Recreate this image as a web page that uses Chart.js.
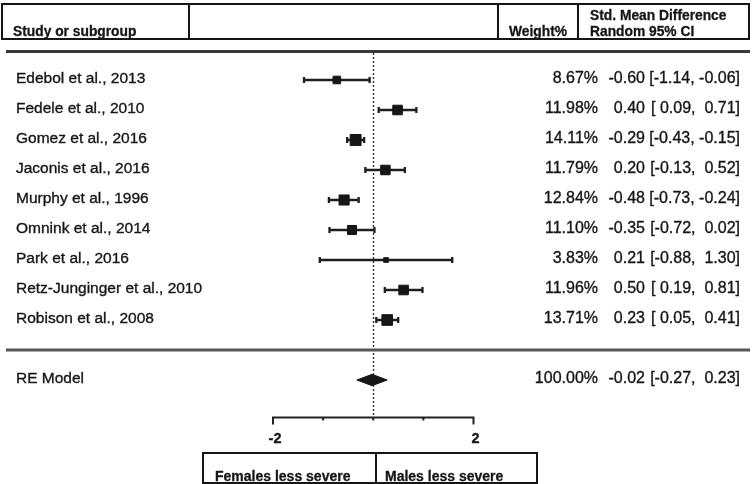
<!DOCTYPE html>
<html>
<head>
<meta charset="utf-8">
<script src="https://cdn.jsdelivr.net/npm/chart.js@4.4.1/dist/chart.umd.min.js"></script>
<style>
  html, body { margin: 0; padding: 0; background: #fff; }
  canvas { display: block; }
</style>
</head>
<body>
<canvas id="forest" width="755" height="484"></canvas>
<script>
// dados do forest plot
const studies = [
    'Edebol et al., 2013',
    'Fedele et al., 2010',
    'Gomez et al., 2016',
    'Jaconis et al., 2016',
    'Murphy et al., 1996',
    'Omnink et al., 2014',
    'Park et al., 2016',
    'Retz-Junginger et al., 2010',
    'Robison et al., 2008'
];
const weights = [8.67, 11.98, 14.11, 11.79, 12.84, 11.10, 3.83, 11.96, 13.71];
const smd = [-0.60, 0.40, -0.29, 0.20, -0.48, -0.35, 0.21, 0.50, 0.23];
const ciLow = [-1.14, 0.09, -0.43, -0.13, -0.73, -0.72, -0.88, 0.19, 0.05];
const ciHigh = [-0.06, 0.71, -0.15, 0.52, -0.24, 0.02, 1.30, 0.81, 0.41];

// modelo de efeitos aleatorios
const reLabel = 'RE Model';
const reWeight = 100.00;
const reSmd = -0.02;
const reLow = -0.27;
const reHigh = 0.23;

// eixo x (rotulos como aparecem na figura)
const axisTicks = [-1.65, -0.825, 0, 0.825, 1.65];
const axisTickLabels = ['-2', '', '', '', '2'];
const directionLabels = ['Females less severe', 'Males less severe'];

const headerLabels = ['Study or subgroup', 'Weight%', 'Std. Mean Difference', 'Random 95% CI'];

const FONT = '"Liberation Sans", Arial, sans-serif';
const INK = '#161616';
const reRow = studies.length + 1;

function fmt(v) { // numero com espaco no lugar do sinal
    return (v < 0 ? '' : ' ') + v.toFixed(2);
}

// texto um pouco mais grosso, como na figura original
function heavyText(ctx, txt, px, py) {
    ctx.fillText(txt, px, py);
    ctx.strokeText(txt, px, py);
}

// plugin que desenha a tabela, a linha do zero e o eixo
const forestTable = {
    id: 'forestTable',
    beforeDatasetsDraw(chart) {
        const ctx = chart.ctx;
        const x = chart.scales.x, y = chart.scales.y;
        const x0 = Math.round(x.getPixelForValue(0)) + 0.5;
        ctx.save();
        ctx.strokeStyle = '#333';
        ctx.lineWidth = 1.4;
        ctx.setLineDash([2, 2]);
        ctx.beginPath();
        ctx.moveTo(x0, y.getPixelForValue(-0.9));
        ctx.lineTo(x0, chart.chartArea.bottom);
        ctx.stroke();
        ctx.restore();
    },
    afterDraw(chart) {
        const ctx = chart.ctx;
        const x = chart.scales.x, y = chart.scales.y;
        ctx.save();
        ctx.fillStyle = INK;
        ctx.strokeStyle = INK;

        // cabecalho
        ctx.font = 'bold 13.8px ' + FONT;
        ctx.textBaseline = 'alphabetic';
        ctx.textAlign = 'left';
        ctx.lineWidth = 0.3;
        heavyText(ctx, headerLabels[0], 13, 36);
        heavyText(ctx, headerLabels[1], 509, 36);
        heavyText(ctx, headerLabels[2], 590, 20);
        heavyText(ctx, headerLabels[3], 590, 36);

        ctx.lineWidth = 2;
        ctx.strokeRect(2, 4, 747, 35);
        ctx.beginPath();
        [189, 498, 578].forEach(function (px) {
            ctx.moveTo(px, 4);
            ctx.lineTo(px, 39);
        });
        ctx.stroke();

        // linha dupla abaixo do cabecalho
        ctx.strokeStyle = '#3a3a3a';
        ctx.lineWidth = 3;
        ctx.beginPath();
        ctx.moveTo(6, 51.5);
        ctx.lineTo(750, 51.5);
        ctx.stroke();

        // linhas dos estudos
        ctx.fillStyle = INK;
        ctx.strokeStyle = INK;
        ctx.lineWidth = 0.35;
        ctx.textBaseline = 'middle';
        for (let i = 0; i < studies.length; i++) {
            const py = y.getPixelForValue(i) - 1;
            ctx.font = '15.5px ' + FONT;
            ctx.textAlign = 'left';
            heavyText(ctx, studies[i], 16, py);
            ctx.font = '16px ' + FONT;
            ctx.textAlign = 'right';
            heavyText(ctx, weights[i].toFixed(2) + '%', 598, py);
            heavyText(ctx, smd[i].toFixed(2), 645, py);
            heavyText(ctx, '[' + fmt(ciLow[i]) + ', ' + fmt(ciHigh[i]) + ']', 740, py);
        }

        // separador antes do modelo
        const sepY = y.getPixelForValue(studies.length);
        ctx.strokeStyle = '#555';
        ctx.lineWidth = 3;
        ctx.beginPath();
        ctx.moveTo(6, sepY);
        ctx.lineTo(750, sepY);
        ctx.stroke();

        const ry = y.getPixelForValue(reRow) - 1;
        ctx.strokeStyle = INK;
        ctx.lineWidth = 0.35;
        ctx.font = '15.5px ' + FONT;
        ctx.textAlign = 'left';
        heavyText(ctx, reLabel, 16, ry);
        ctx.font = '16px ' + FONT;
        ctx.textAlign = 'right';
        heavyText(ctx, reWeight.toFixed(2) + '%', 598, ry);
        heavyText(ctx, reSmd.toFixed(2), 645, ry);
        heavyText(ctx, '[' + fmt(reLow) + ', ' + fmt(reHigh) + ']', 740, ry);

        // eixo x
        const ay = chart.chartArea.bottom;
        const first = x.getPixelForValue(axisTicks[0]);
        const last = x.getPixelForValue(axisTicks[axisTicks.length - 1]);
        ctx.strokeStyle = '#222';
        ctx.lineWidth = 2;
        ctx.beginPath();
        ctx.moveTo(first - 1, ay);
        ctx.lineTo(last + 1, ay);
        axisTicks.forEach(function (t, k) {
            const px = x.getPixelForValue(t);
            const len = (k === 0 || k === axisTicks.length - 1) ? 7 : 3;
            ctx.moveTo(px, ay);
            ctx.lineTo(px, ay + len);
        });
        ctx.stroke();

        ctx.font = 'bold 14.5px ' + FONT;
        ctx.textAlign = 'center';
        ctx.fillStyle = INK;
        ctx.strokeStyle = INK;
        ctx.lineWidth = 0.3;
        axisTicks.forEach(function (t, k) {
            if (axisTickLabels[k]) {
                heavyText(ctx, axisTickLabels[k], x.getPixelForValue(t) + 2, ay + 21);
            }
        });

        // caixa de direcao
        ctx.lineWidth = 2;
        ctx.strokeRect(203, 453, 334, 30);
        ctx.beginPath();
        ctx.moveTo(376, 453);
        ctx.lineTo(376, 483);
        ctx.stroke();
        ctx.textAlign = 'left';
        ctx.textBaseline = 'alphabetic';
        ctx.lineWidth = 0.3;
        ctx.font = 'bold 14px ' + FONT;
        heavyText(ctx, directionLabels[0], 215, 481);
        heavyText(ctx, directionLabels[1], 385, 481);

        ctx.restore();
    }
};

const squareData = smd.map(function (v, i) { return {x: v, y: i}; });
const squareRadius = weights.map(function (w) { return (0.6 * w + 2.4) / Math.SQRT2; });

const ciDatasets = studies.map(function (s, i) {
    return {
        label: s,
        data: [{x: ciLow[i], y: i}, {x: ciHigh[i], y: i}],
        showLine: true,
        borderColor: '#1e1e1e',
        borderWidth: 2.3,
        pointStyle: 'line',
        pointRotation: 90,
        pointRadius: 3,
        pointBorderWidth: 2.3,
        pointBorderColor: '#1e1e1e'
    };
});

const diamondHalf = 0.19;
const diamond = {
    label: reLabel,
    type: 'line',
    data: [
        {x: reLow, y: reRow},
        {x: reSmd, y: reRow - diamondHalf},
        {x: reHigh, y: reRow},
        {x: reSmd, y: reRow + diamondHalf},
        {x: reLow, y: reRow}
    ],
    borderColor: INK,
    backgroundColor: INK,
    borderWidth: 1,
    pointRadius: 0,
    tension: 0,
    fill: 'shape'
};

const squares = {
    label: 'SMD',
    data: squareData,
    pointStyle: 'rect',
    pointRadius: squareRadius,
    backgroundColor: INK,
    pointBorderColor: INK,
    pointBorderWidth: 1
};

new Chart(document.getElementById('forest'), {
    type: 'scatter',
    data: {
        datasets: [squares, diamond].concat(ciDatasets)
    },
    options: {
        responsive: false,
        animation: false,
        devicePixelRatio: 1,
        layout: {
            padding: {left: 273, right: 281.5, top: 50, bottom: 66.5}
        },
        scales: {
            x: {type: 'linear', min: -1.65, max: 1.65, display: false},
            y: {type: 'linear', min: -1, max: 11.25, reverse: true, display: false}
        },
        plugins: {
            legend: {display: false},
            tooltip: {enabled: false}
        }
    },
    plugins: [forestTable]
});
</script>
</body>
</html>
